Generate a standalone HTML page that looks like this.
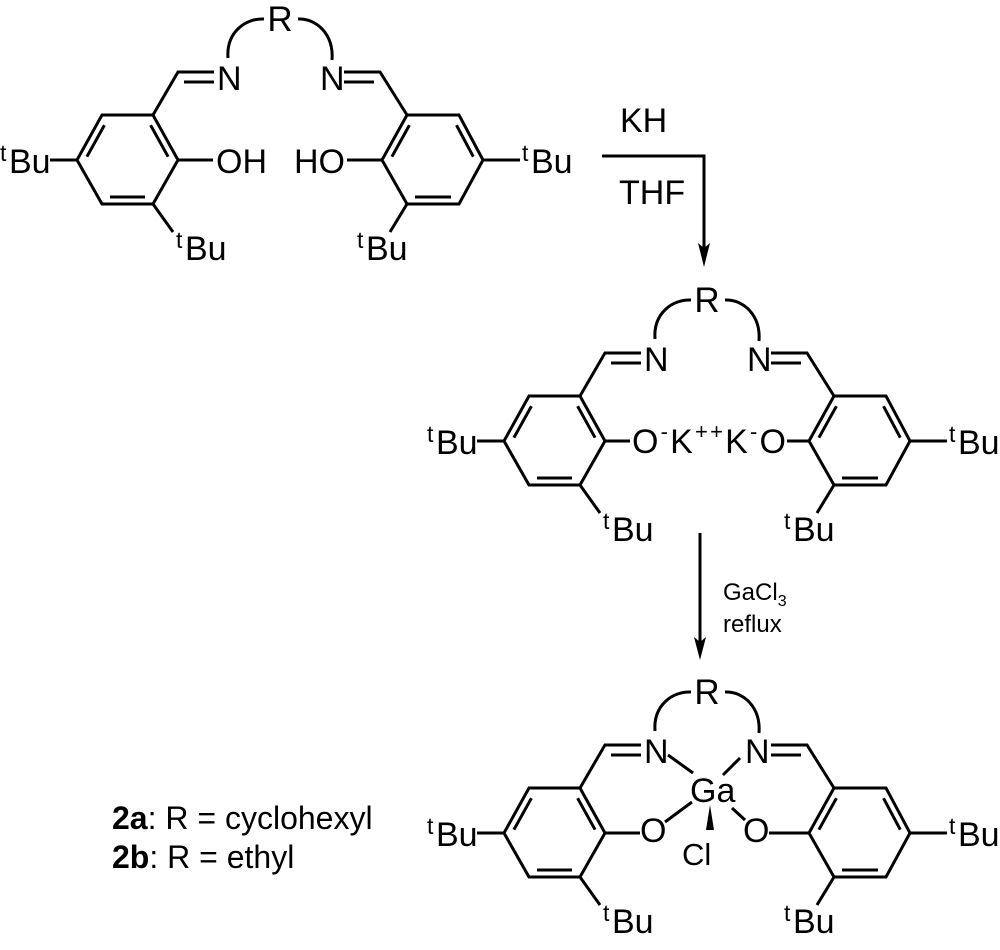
<!DOCTYPE html>
<html><head><meta charset="utf-8"><style>
html,body{margin:0;padding:0;background:#fff;}
svg{display:block;}
text{font-family:"Liberation Sans",Arial,sans-serif;fill:#000;}
</style></head><body>
<svg width="1000" height="950" viewBox="0 0 1000 950" xmlns="http://www.w3.org/2000/svg">
<defs>
<g id="sk" fill="none" stroke="#000" stroke-width="3" stroke-linecap="butt" stroke-linejoin="miter">
  <polygon points="77,160 102,115 153,115 178,160 153,204 102,204"/>
  <line x1="86.9" y1="156.7" x2="104.4" y2="125.2"/>
  <line x1="150.6" y1="125.2" x2="168.1" y2="156.7"/>
  <line x1="110" y1="197" x2="145" y2="197"/>
  <polygon points="382,160 407,115 459,115 483,160 459,204 407,204"/>
  <line x1="391.9" y1="156.7" x2="409.4" y2="125.2"/>
  <line x1="456.5" y1="125.2" x2="473.3" y2="156.7"/>
  <line x1="415" y1="197" x2="451" y2="197"/>
  <polyline points="153,115 178,72 214,72"/>
  <line x1="184" y1="82" x2="214" y2="82"/>
  <polyline points="407,115 380,72 344,72"/>
  <line x1="374" y1="82" x2="344" y2="82"/>
  <path d="M228,58 C226,32 246,18 264,19"/>
  <path d="M298,19 C316,18 334,34 332,60"/>
  <line x1="50" y1="160" x2="77" y2="160"/>
  <line x1="153" y1="204" x2="173" y2="232"/>
  <line x1="483" y1="160" x2="520" y2="160"/>
  <line x1="407" y1="204" x2="390" y2="232"/>
</g>
</defs>

<!-- TOP -->
<g>
  <use href="#sk"/>
  <g stroke="#000" stroke-width="3">
    <line x1="178" y1="160" x2="213" y2="160"/>
    <line x1="347" y1="160" x2="382" y2="160"/>
  </g>
  <text x="280" y="31" font-size="35" text-anchor="middle">R</text>
  <text x="217" y="90" font-size="34">N</text>
  <text x="320" y="90" font-size="34">N</text>
  <text x="216" y="173" font-size="34">OH</text>
  <text x="294" y="173" font-size="34">HO</text>
  <text x="0" y="161" font-size="23">t</text><text x="9" y="173" font-size="34">Bu</text>
  <text x="176" y="248" font-size="23">t</text><text x="185" y="260" font-size="34">Bu</text>
  <text x="522" y="161" font-size="23">t</text><text x="531" y="173" font-size="34">Bu</text>
  <text x="357" y="248" font-size="23">t</text><text x="366" y="260" font-size="34">Bu</text>
</g>

<!-- KH arrow -->
<polyline points="602,156 704,156 704,250" fill="none" stroke="#000" stroke-width="3"/>
<polygon points="698,243 704,267 710,243 704,248" fill="#000"/>
<text x="620" y="132" font-size="34">KH</text>
<text x="619" y="204" font-size="34">THF</text>

<!-- MIDDLE -->
<g transform="translate(427,281)">
  <use href="#sk"/>
  <g stroke="#000" stroke-width="3">
    <line x1="178" y1="160" x2="203" y2="160"/>
    <line x1="360" y1="160" x2="382" y2="160"/>
  </g>
  <text x="280" y="31" font-size="35" text-anchor="middle">R</text>
  <text x="217" y="90" font-size="34">N</text>
  <text x="320" y="90" font-size="34">N</text>
  <text x="205" y="172" font-size="34" textLength="154" lengthAdjust="spacing">O<tspan font-size="22" dy="-14">-</tspan><tspan dy="14">K</tspan><tspan font-size="22" dy="-14">++</tspan><tspan dy="14">K</tspan><tspan font-size="22" dy="-14">-</tspan><tspan dy="14">O</tspan></text>
  <text x="0" y="161" font-size="23">t</text><text x="9" y="173" font-size="34">Bu</text>
  <text x="176" y="248" font-size="23">t</text><text x="185" y="260" font-size="34">Bu</text>
  <text x="522" y="161" font-size="23">t</text><text x="531" y="173" font-size="34">Bu</text>
  <text x="357" y="248" font-size="23">t</text><text x="366" y="260" font-size="34">Bu</text>
</g>

<!-- GaCl3 arrow -->
<line x1="700" y1="533" x2="700" y2="645" stroke="#000" stroke-width="3"/>
<polygon points="694,637 700,660 706,637 700,642" fill="#000"/>
<text x="723" y="600" font-size="24">GaCl<tspan font-size="16" dy="6">3</tspan></text>
<text x="723" y="632" font-size="24">reflux</text>

<!-- BOTTOM -->
<g transform="translate(427,673)">
  <use href="#sk"/>
  <g stroke="#000" stroke-width="3">
    <line x1="178" y1="160" x2="213" y2="160"/>
    <line x1="342" y1="160" x2="382" y2="160"/>
    <line x1="241" y1="82" x2="266" y2="100"/>
    <line x1="313" y1="85" x2="296" y2="102"/>
    <line x1="238" y1="149" x2="265" y2="129"/>
    <line x1="305" y1="135" x2="318" y2="147"/>
  </g>
  <polygon points="283,132 279,157 287,157" fill="#000"/>
  <text x="280" y="31" font-size="35" text-anchor="middle">R</text>
  <text x="217" y="90" font-size="34">N</text>
  <text x="318" y="90" font-size="34">N</text>
  <text x="263" y="129" font-size="34">Ga</text>
  <text x="213" y="169" font-size="34">O</text>
  <text x="316" y="169" font-size="34">O</text>
  <text x="255" y="192" font-size="31">Cl</text>
  <text x="0" y="161" font-size="23">t</text><text x="9" y="173" font-size="34">Bu</text>
  <text x="176" y="248" font-size="23">t</text><text x="185" y="260" font-size="34">Bu</text>
  <text x="522" y="161" font-size="23">t</text><text x="531" y="173" font-size="34">Bu</text>
  <text x="357" y="248" font-size="23">t</text><text x="366" y="260" font-size="34">Bu</text>
</g>

<!-- legend -->
<text x="112" y="829" font-size="32"><tspan font-weight="bold">2a</tspan>: R = cyclohexyl</text>
<text x="112" y="868" font-size="32"><tspan font-weight="bold">2b</tspan>: R = ethyl</text>
</svg>
</body></html>
